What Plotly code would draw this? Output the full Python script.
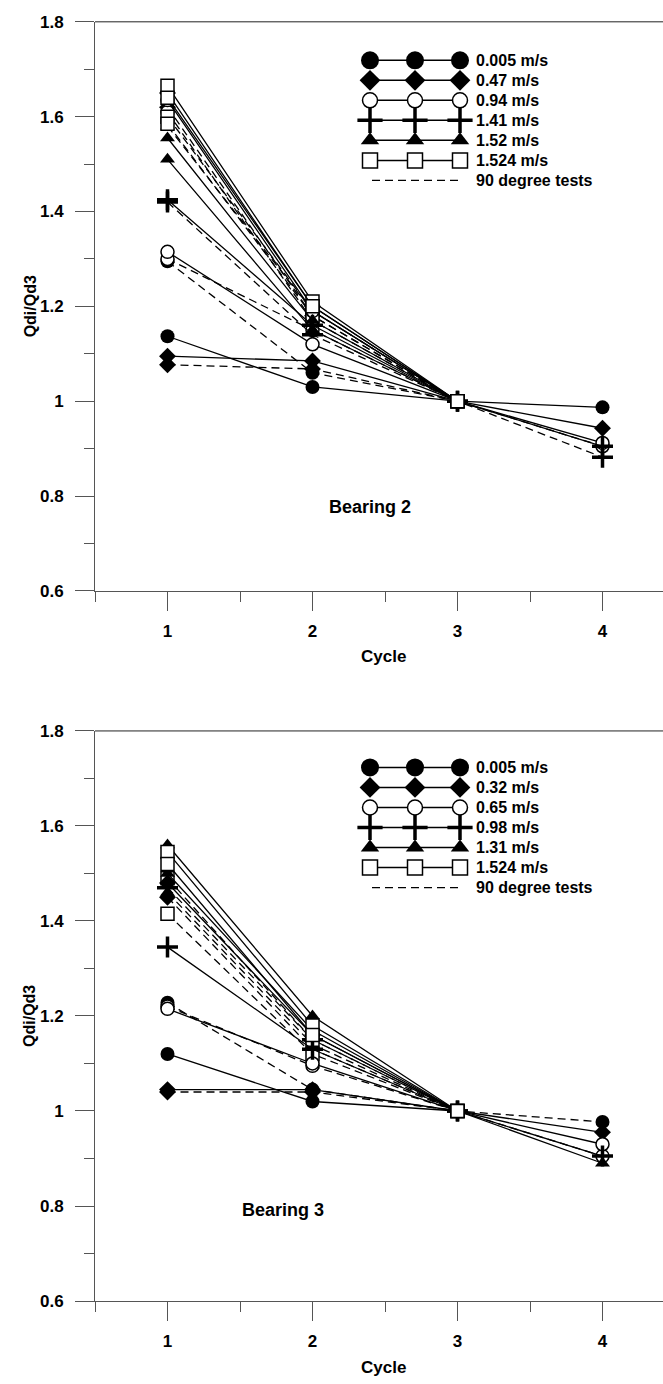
import plotly.graph_objects as go

# ---------------- data ----------------
cycles = [1, 2, 3, 4]

b2_labels = ["0.005 m/s", "0.47 m/s", "0.94 m/s", "1.41 m/s", "1.52 m/s", "1.524 m/s"]
b3_labels = ["0.005 m/s", "0.32 m/s", "0.65 m/s", "0.98 m/s", "1.31 m/s", "1.524 m/s"]
dash_label = "90 degree tests"

# Bearing 2  (Qdi/Qd3 at cycles 1..4; None = not measured)
b2_s0_a = [1.137, 1.030, 1.0, 0.987]
b2_s0_b90 = [1.295, 1.060, 1.0, None]
b2_s1_a = [1.095, 1.085, 1.0, 0.943]
b2_s1_b90 = [1.077, 1.068, 1.0, None]
b2_s1_c = [1.650, 1.200, 1.0, None]
b2_s1_d90 = [1.620, 1.180, 1.0, None]
b2_s2_a = [1.315, 1.120, 1.0, 0.912]
b2_s2_b90 = [1.300, 1.150, 1.0, 0.905]
b2_s2_c = [1.635, 1.190, 1.0, None]
b2_s2_d90 = [1.610, 1.170, 1.0, None]
b2_s3_a = [1.425, 1.160, 1.0, 0.905]
b2_s3_b90 = [1.420, 1.140, 1.0, 0.882]
b2_s4_a = [1.555, 1.170, 1.0, None]
b2_s4_b = [1.510, 1.150, 1.0, None]
b2_s4_c90 = [1.580, 1.190, 1.0, None]
b2_s5_a = [1.665, 1.210, 1.0, None]
b2_s5_b = [1.640, 1.200, 1.0, None]
b2_s5_c90 = [1.600, 1.190, 1.0, None]
b2_s5_d90 = [1.585, 1.180, 1.0, None]

# Bearing 3
b3_s0_a = [1.120, 1.020, 1.0, None]
b3_s0_b90 = [1.228, 1.045, 1.0, 0.977]
b3_s1_a = [1.045, 1.045, 1.0, 0.955]
b3_s1_b90 = [1.040, 1.040, 1.0, None]
b3_s1_c = [1.480, 1.160, 1.0, None]
b3_s1_d90 = [1.450, 1.130, 1.0, None]
b3_s2_a = [1.215, 1.100, 1.0, 0.930]
b3_s2_b90 = [1.220, 1.095, 1.0, 0.905]
b3_s3_a = [1.345, 1.130, 1.0, 0.905]
b3_s3_b90 = [1.470, 1.150, 1.0, None]
b3_s4_a = [1.560, 1.200, 1.0, 0.890]
b3_s4_b = [1.500, 1.170, 1.0, None]
b3_s4_c90 = [1.460, 1.140, 1.0, None]
b3_s5_a = [1.545, 1.180, 1.0, None]
b3_s5_b = [1.520, 1.160, 1.0, None]
b3_s5_c90 = [1.415, 1.120, 1.0, None]
b3_s5_d90 = [1.490, 1.150, 1.0, None]

y_tick_vals = [0.6, 0.8, 1.0, 1.2, 1.4, 1.6, 1.8]
y_tick_text = ["0.6", "0.8", "1", "1.2", "1.4", "1.6", "1.8"]
x_tick_vals = [1, 2, 3, 4]
x_tick_text = ["1", "2", "3", "4"]

# (speed index, is 90-degree test, values)
b2_series = [
    (0, False, b2_s0_a), (0, True, b2_s0_b90),
    (1, False, b2_s1_a), (1, True, b2_s1_b90), (1, False, b2_s1_c), (1, True, b2_s1_d90),
    (2, False, b2_s2_a), (2, True, b2_s2_b90), (2, False, b2_s2_c), (2, True, b2_s2_d90),
    (3, False, b2_s3_a), (3, True, b2_s3_b90),
    (4, False, b2_s4_a), (4, False, b2_s4_b), (4, True, b2_s4_c90),
    (5, False, b2_s5_a), (5, False, b2_s5_b), (5, True, b2_s5_c90), (5, True, b2_s5_d90),
]
b3_series = [
    (0, False, b3_s0_a), (0, True, b3_s0_b90),
    (1, False, b3_s1_a), (1, True, b3_s1_b90), (1, False, b3_s1_c), (1, True, b3_s1_d90),
    (2, False, b3_s2_a), (2, True, b3_s2_b90),
    (3, False, b3_s3_a), (3, True, b3_s3_b90),
    (4, False, b3_s4_a), (4, False, b3_s4_b), (4, True, b3_s4_c90),
    (5, False, b3_s5_a), (5, False, b3_s5_b), (5, True, b3_s5_c90), (5, True, b3_s5_d90),
]

# ---------------- style ----------------
W, H = 663, 1384
FONT = "Arial, 'Liberation Sans', sans-serif"
AX = "#555555"
symbols = ["circle", "diamond", "circle", "cross-thin", "triangle-up", "square"]
fills = ["black", "black", "white", "black", "black", "white"]
edge_w = [0, 0, 1.5, 3.5, 0, 1.5]
msize = [14, 13, 13, 15, 13, 13]
lsize = [18, 16, 15, 18, 16, 15]
DASH = "8px,5px"


def marker(i, size):
    return dict(symbol=symbols[i], size=size, color=fills[i],
                line=dict(color="black", width=edge_w[i]))


fig = go.Figure()

panels = [
    dict(series=b2_series, labels=b2_labels, xa="x", ya="y", top=13, bot=590,
         leg_y0=52, name="Bearing 2", name_xy=(370, 505)),
    dict(series=b3_series, labels=b3_labels, xa="x2", ya="y2", top=732, bot=1310,
         leg_y0=769, name="Bearing 3", name_xy=(283, 1218)),
]

# draw dashed first so solid lines sit on top
for p in panels:
    for dashed_pass in (True, False):
        for (si, is90, vals) in p["series"]:
            if is90 != dashed_pass:
                continue
            fig.add_trace(go.Scatter(
                x=cycles, y=vals, xaxis=p["xa"], yaxis=p["ya"],
                mode="lines+markers", connectgaps=False,
                line=dict(color="black", width=1.3, dash=DASH if is90 else "solid"),
                marker=marker(si, msize[si]), showlegend=False, hoverinfo="skip"))

# custom legends (three markers per row, as in the original) on a pixel overlay axis
row_gap = 20.3
leg_mx = [370, 415, 460]
LEGFONT = dict(family=FONT, size=16, color="black", weight="bold")
for p in panels:
    for i, lab in enumerate(p["labels"]):
        yy = p["leg_y0"] + i * row_gap
        fig.add_trace(go.Scatter(
            x=leg_mx, y=[yy] * 3, xaxis="x3", yaxis="y3", mode="lines+markers",
            line=dict(color="black", width=1.5), marker=marker(i, lsize[i]),
            showlegend=False, hoverinfo="skip"))
        fig.add_annotation(x=474, y=yy, xref="x3", yref="y3", text=lab, showarrow=False,
                           xanchor="left", yanchor="middle", font=LEGFONT)
    yy = p["leg_y0"] + len(p["labels"]) * row_gap
    fig.add_trace(go.Scatter(
        x=[leg_mx[0] + 2, leg_mx[-1] - 2], y=[yy, yy], xaxis="x3", yaxis="y3", mode="lines",
        line=dict(color="black", width=1.3, dash=DASH), showlegend=False, hoverinfo="skip"))
    fig.add_annotation(x=474, y=yy, xref="x3", yref="y3", text=dash_label, showarrow=False,
                       xanchor="left", yanchor="middle", font=LEGFONT)
    # panel name
    fig.add_annotation(x=p["name_xy"][0], y=p["name_xy"][1], xref="x3", yref="y3",
                       text=p["name"], showarrow=False, xanchor="center", yanchor="middle",
                       font=dict(family=FONT, size=18, color="black", weight="bold"))
    # axis titles
    fig.add_annotation(x=383, y=p["bot"] + 67, xref="x3", yref="y3", text="Cycle",
                       showarrow=False, xanchor="center", yanchor="middle",
                       font=dict(family=FONT, size=17, color="black", weight="bold"))
    fig.add_annotation(x=30, y=(p["top"] + p["bot"]) / 2, xref="x3", yref="y3",
                       text="Qdi/Qd3", textangle=-90, showarrow=False,
                       xanchor="center", yanchor="middle",
                       font=dict(family=FONT, size=16, color="black", weight="bold"))

x0 = 95
px_per_cycle = 145
x_end = 0.5 + (W - x0) / px_per_cycle

tickfont = dict(family=FONT, size=17, color="black", weight="bold")


def xaxis(anchor):
    return dict(domain=[x0 / W, 1], range=[0.5, x_end], anchor=anchor,
                showline=True, linecolor=AX, linewidth=1, mirror=False,
                ticks="outside", ticklen=19, tickcolor=AX, tickwidth=1,
                tickvals=x_tick_vals, ticktext=x_tick_text, tickfont=tickfont,
                ticklabelstandoff=6,
                minor=dict(tickvals=[0.5, 1.5, 2.5, 3.5], ticks="outside", ticklen=10,
                           tickcolor=AX, tickwidth=1, showgrid=False),
                showgrid=False, zeroline=False, fixedrange=True)


def yaxis(anchor, top, bot):
    return dict(domain=[1 - bot / H, 1 - top / H], range=[0.6, 1.8], anchor=anchor,
                showline=True, linecolor=AX, linewidth=1, mirror=False,
                ticks="outside", ticklen=19, tickcolor=AX, tickwidth=1,
                tickvals=y_tick_vals, ticktext=y_tick_text, tickfont=tickfont,
                ticklabelstandoff=8,
                minor=dict(dtick=0.1, tick0=0.6, ticks="outside", ticklen=10,
                           tickcolor=AX, tickwidth=1, showgrid=False),
                showgrid=False, zeroline=False, fixedrange=True)


fig.update_layout(
    width=W, height=H, margin=dict(l=0, r=0, t=0, b=0),
    paper_bgcolor="white", plot_bgcolor="rgba(0,0,0,0)",
    showlegend=False, hovermode=False,
    xaxis=xaxis("y"), yaxis=yaxis("x", 13, 590),
    xaxis2=xaxis("y2"), yaxis2=yaxis("x2", 732, 1310),
    xaxis3=dict(domain=[0, 1], range=[0, W], visible=False, anchor="y3", fixedrange=True),
    yaxis3=dict(domain=[0, 1], range=[H, 0], visible=False, anchor="x3", fixedrange=True),
    shapes=[
        dict(type="line", xref="x domain", yref="y domain", x0=0, x1=1, y0=1, y1=1,
             line=dict(color="#222222", width=1)),
        dict(type="line", xref="x2 domain", yref="y2 domain", x0=0, x1=1, y0=1, y1=1,
             line=dict(color="#222222", width=1)),
    ],
)

fig.write_html("out.html")
